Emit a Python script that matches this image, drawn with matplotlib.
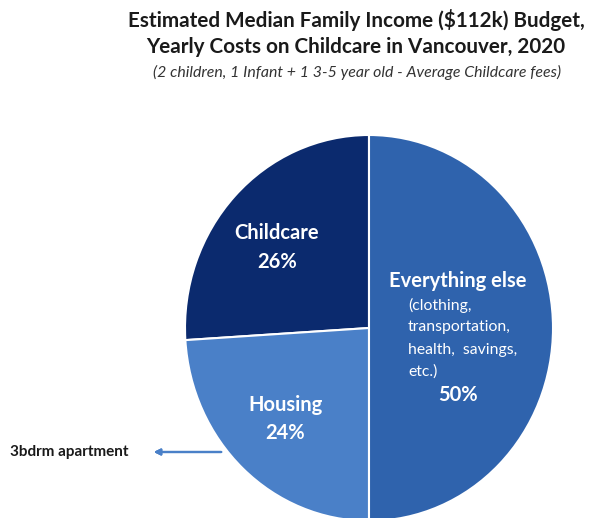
import matplotlib.pyplot as plt

labels = ["Childcare", "Housing", "Everything else"]
shares = [26, 24, 50]
colors = ["#0b2a6e", "#4a80c8", "#2f63ad"]
details = ["(clothing,", "transportation,", "health,  savings,", "etc.)"]

W, H = 590, 518
fig = plt.figure(figsize=(W / 100, H / 100), dpi=100)
plt.rcParams['font.family'] = ['Lato', 'DejaVu Sans']


def px(x, y):
    return x / W, 1 - y / H


# pie is slightly taller than wide, so the axes box is not square
cx, cy, rx, ry = 369, 328, 184, 193
ax = fig.add_axes([(cx - rx) / W, (H - cy - ry) / H, 2 * rx / W, 2 * ry / H])
wedges, _ = ax.pie(shares, colors=colors, startangle=90, counterclock=True,
                   wedgeprops=dict(edgecolor="white", linewidth=1.5))
ax.set_aspect("auto")
ax.set_xlim(-1, 1)
ax.set_ylim(-1, 1)
ax.axis("off")
for w in wedges:
    w.set_clip_on(False)

fig.text(*px(356, 20), "Estimated Median Family Income ($112k) Budget,",
         ha="center", va="center", fontsize=14.9, fontweight="bold", color="#1a1a1a")
fig.text(*px(356, 47), "Yearly Costs on Childcare in Vancouver, 2020",
         ha="center", va="center", fontsize=14.9, fontweight="bold", color="#1a1a1a")
fig.text(*px(357, 72), "(2 children, 1 Infant + 1 3-5 year old - Average Childcare fees)",
         ha="center", va="center", fontsize=11.4, style="italic", color="#333333")

fig.text(*px(277, 233), labels[0], ha="center", va="center",
         fontsize=14.5, fontweight="bold", color="white")
fig.text(*px(277, 262), f"{shares[0]}%", ha="center", va="center",
         fontsize=14.5, fontweight="bold", color="white")

fig.text(*px(285, 405), labels[1], ha="center", va="center",
         fontsize=14.5, fontweight="bold", color="white")
fig.text(*px(285, 433), f"{shares[1]}%", ha="center", va="center",
         fontsize=14.5, fontweight="bold", color="white")

fig.text(*px(458, 281), labels[2], ha="center", va="center",
         fontsize=14.5, fontweight="bold", color="white")
for i, line in enumerate(details):
    fig.text(*px(408, 305 + 22.3 * i), line, ha="left", va="center",
             fontsize=11.3, color="white")
fig.text(*px(458, 395), f"{shares[2]}%", ha="center", va="center",
         fontsize=14.5, fontweight="bold", color="white")

# side note for the housing slice
fig.text(*px(10, 452), "3bdrm apartment", ha="left", va="center",
         fontsize=11, fontweight="bold", color="#1a1a1a")
fig.add_artist(plt.annotate("", xy=px(151, 452), xytext=px(224, 452),
                            xycoords="figure fraction", textcoords="figure fraction",
                            arrowprops=dict(arrowstyle="-|>", color="#4a80c8",
                                            lw=1.6, mutation_scale=9)))

fig.savefig("out.png", dpi=100)
